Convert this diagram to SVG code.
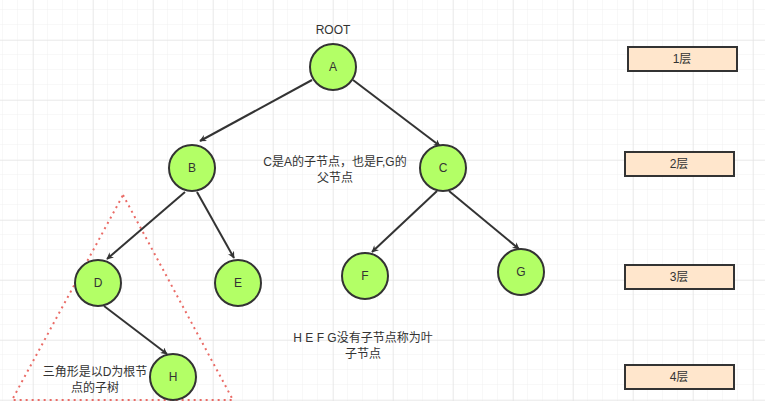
<svg xmlns="http://www.w3.org/2000/svg" width="765" height="401" viewBox="0 0 765 401">
<defs>
<pattern id="mi" width="15" height="15" patternUnits="userSpaceOnUse" x="3" y="10"><path d="M15 0V15M0 15H15" fill="none" stroke="#f0f0f0" stroke-width="1"/></pattern>
<pattern id="ma" width="60" height="60" patternUnits="userSpaceOnUse" x="33" y="40"><path d="M0 0V60M0 0H60" fill="none" stroke="#e0e0e0" stroke-width="1"/></pattern>
<marker id="ar" viewBox="0 0 10 10" refX="9" refY="5" markerWidth="7" markerHeight="7" orient="auto" markerUnits="userSpaceOnUse"><path d="M0 0L10 5L0 10L3 5Z" fill="#333"/></marker>
</defs>
<style>
.n circle{fill:#b3ff66;stroke:#333;stroke-width:2}
.n text,.t,.l text{font-family:"Liberation Sans","Noto Sans CJK SC",sans-serif;font-size:12px;fill:#333;text-anchor:middle}
.e line{stroke:#333;stroke-width:2;marker-end:url(#ar)}
.l rect{fill:#ffe6cc;stroke:#333;stroke-width:2}
</style>
<rect width="765" height="401" fill="#fff"/>
<rect width="765" height="401" fill="url(#mi)"/>
<rect width="765" height="401" fill="url(#ma)"/>
<polygon points="123,195 233,400 12,400" fill="none" stroke="#ea6b66" stroke-width="2" stroke-dasharray="2 4"/>
<g class="e">
<line x1="312" y1="80" x2="200" y2="141"/>
<line x1="353" y1="80" x2="440" y2="146"/>
<line x1="185" y1="192" x2="107" y2="259"/>
<line x1="197" y1="192" x2="234" y2="258"/>
<line x1="437" y1="191" x2="372" y2="252"/>
<line x1="449" y1="191" x2="519" y2="249"/>
<line x1="104" y1="306" x2="167" y2="354"/>
</g>
<g id="A" class="n"><circle cx="333" cy="67" r="23"/><text x="333" y="71">A</text></g>
<g id="B" class="n"><circle cx="192" cy="168" r="23"/><text x="192" y="172">B</text></g>
<g id="C" class="n"><circle cx="443" cy="168" r="23"/><text x="443" y="172">C</text></g>
<g id="D" class="n"><circle cx="98" cy="283" r="23"/><text x="98" y="287">D</text></g>
<g id="E" class="n"><circle cx="238" cy="283" r="23"/><text x="238" y="287">E</text></g>
<g id="F" class="n"><circle cx="365" cy="276" r="23"/><text x="365" y="280">F</text></g>
<g id="G" class="n"><circle cx="521" cy="272" r="23"/><text x="521" y="276">G</text></g>
<g id="H" class="n"><circle cx="173" cy="377" r="23"/><text x="173" y="381">H</text></g>
<text class="t" x="333" y="34">ROOT</text>
<text class="t" x="335" y="166">C是A的子节点，也是F,G的</text>
<text class="t" x="335" y="182">父节点</text>
<text class="t" x="363" y="342">H E F G没有子节点称为叶</text>
<text class="t" x="363" y="358">子节点</text>
<text class="t" x="95" y="376">三角形是以D为根节</text>
<text class="t" x="95" y="392">点的子树</text>
<g id="L1" class="l"><rect x="628" y="47" width="109" height="24"/><text x="682" y="63">1层</text></g>
<g id="L2" class="l"><rect x="625" y="152" width="109" height="24"/><text x="679" y="168">2层</text></g>
<g id="L3" class="l"><rect x="625" y="265" width="109" height="24"/><text x="679" y="281">3层</text></g>
<g id="L4" class="l"><rect x="625" y="365" width="109" height="24"/><text x="679" y="381">4层</text></g>
</svg>
